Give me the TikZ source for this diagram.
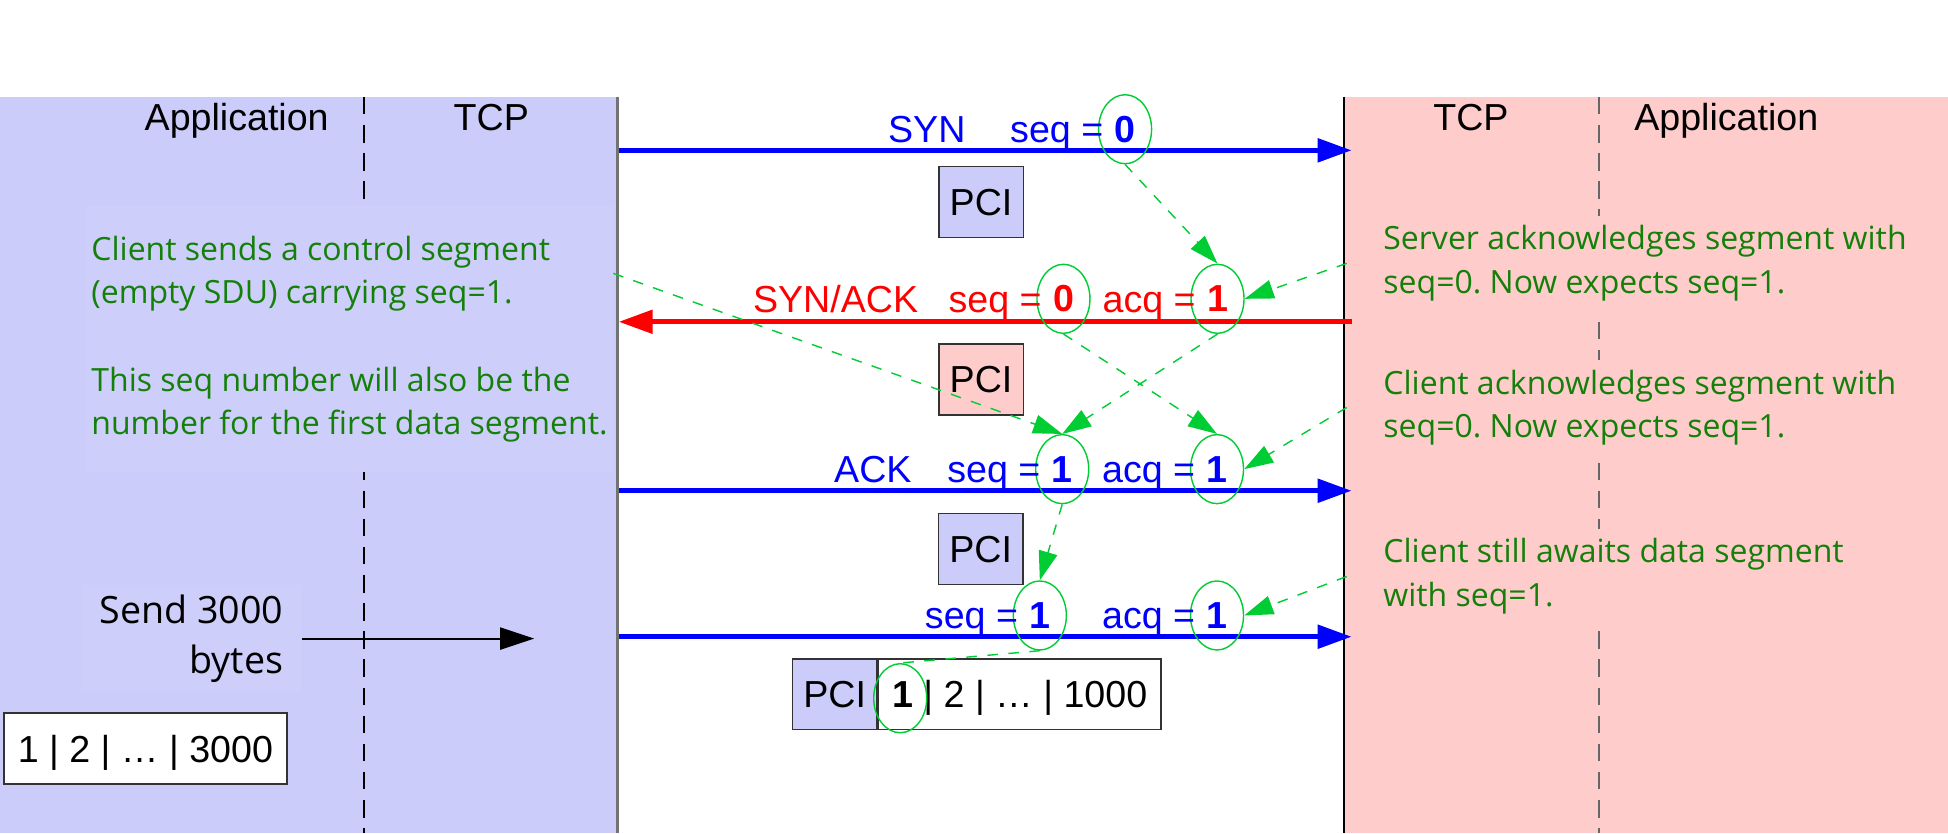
\documentclass[tikz,border=0pt]{standalone}
\usepackage{fontspec}
\setmainfont{Liberation Sans}
\newfontfamily\notefont{Open Sans}
\usepackage{xcolor}
\usetikzlibrary{arrows.meta, shapes.geometric, positioning}
\definecolor{clientblue}{RGB}{204,204,250}
\definecolor{serverpink}{RGB}{255,204,204}
\definecolor{segblue}{RGB}{0,0,255}
\definecolor{segred}{RGB}{255,0,0}
\definecolor{notegreen}{RGB}{20,128,10}
\definecolor{ringgreen}{RGB}{0,204,51}
\frenchspacing

\begin{document}
\begin{tikzpicture}[
  x=0.012423cm, y=-0.012423cm,
  font=\fontsize{10.7pt}{12.8pt}\selectfont,
  layerline/.style={
    dash pattern=on 5pt off 3pt,
    line width=0.5pt,
  },
  header/.style={
    anchor=base,
    inner sep=0pt,
  },
  seglabel/.style={
    anchor=base,
    inner sep=0pt,
  },
  field/.style={
    anchor=base east,
    inner sep=0pt,
  },
  ring/.style={
    ellipse,
    draw=ringgreen,
    line width=0.4pt,
    minimum width=0.53cm,
    minimum height=0.69cm,
    inner sep=0pt,
    font=\fontsize{10.7pt}{12.8pt}\selectfont\bfseries,
  },
  pcibox/.style={
    draw=black!80,
    minimum width=0.845cm,
    minimum height=0.708cm,
    inner sep=0pt,
    text depth=0pt,
  },
  databox/.style={
    draw=black!80,
    fill=white,
    minimum height=0.708cm,
    inner sep=0pt,
    text depth=0pt,
  },
  notetext/.style={
    font=\notefont\fontsize{9.1pt}{12.4pt}\selectfont,
    text=notegreen,
    align=left,
    anchor=west,
    inner xsep=0.36cm,
    inner ysep=0.1cm,
  },
  sendnote/.style={
    font=\notefont\fontsize{10.7pt}{14.2pt}\selectfont,
    fill=clientblue!97!white,
    align=right,
    anchor=east,
    inner xsep=0.18cm,
    inner ysep=0.1cm,
  },
  segarrow/.style={
    line width=1.5pt,
    -{Triangle[length=0.34cm, width=0.23cm]},
  },
  apparrow/.style={
    line width=0.6pt,
    -{Triangle[length=0.34cm, width=0.22cm]},
  },
  ackline/.style={
    draw=ringgreen,
    line width=0.4pt,
    dash pattern=on 3pt off 3pt,
  },
  ackarrow/.style={
    ackline,
    -{Triangle[length=0.29cm, width=0.19cm]},
  }
]
  \useasboundingbox (0,0) rectangle (1568,670.5);

  % Hosts
  \fill[clientblue] (0,78) rectangle (497,670.5);
  \fill[serverpink] (1083,78) rectangle (1568,670.5);
  \draw[layerline] (293,78) -- (293,670.5);
  \draw[layerline, draw=black!60] (1287,78) -- (1287,670.5);
  \draw[black!55, line width=0.6pt] (497,78) -- (497,670.5);
  \draw[black, line width=0.6pt] (1082,78) -- (1082,670.5);

  % Layers
  \node[header] (capp) at (190.5,104.7) {Application};
  \node[header] (ctcp) at (395.5,104.7) {TCP};
  \node[header] (stcp) at (1184,104.7) {TCP};
  \node[header] (sapp) at (1389.5,104.7) {Application};

  % Notes
  \node[notetext, fill=clientblue!96!white, inner xsep=0.05cm, inner ysep=0.3cm] (clinote) at (69,273)
    {Client sends a control segment\\(empty SDU) carrying seq=1.\\[12.4pt]This seq number will also be the\\number for the first data segment.};
  \node[notetext, fill=serverpink] (srvack) at (1084,212) {Server acknowledges segment with\\seq=0. Now expects seq=1.};
  \node[notetext, fill=serverpink] (cliack) at (1084,328) {Client acknowledges segment with\\seq=0. Now expects seq=1.};
  \node[notetext, fill=serverpink] (cliwait) at (1084,464) {Client still awaits data segment\\with seq=1.};

  % SYN
  \coordinate (syn-c) at (498,121);
  \coordinate (syn-s) at (1088,121);
  \draw[segarrow, segblue] (syn-c) -- (syn-s);
  \node[seglabel, text=segblue] (synname) at (746,115) {SYN};
  \node[ring, text=segblue] (syn0) at (905.6,104) {0};
  \node[field, text=segblue] (synseq) at ([xshift=-6pt, yshift=-3.83pt]syn0.center) {seq =};
  \node[pcibox, fill=clientblue] (synpci) at (789.7,162.6) {PCI};

  % SYN/ACK
  \coordinate (sa-s) at (1088,259);
  \coordinate (sa-c) at (498,259);
  \draw[segarrow, segred] (sa-s) -- (sa-c);
  \node[seglabel, text=segred] (saname) at (672.6,251.4) {SYN/ACK};
  \node[ring, text=segred] (sa0) at (856,240.5) {0};
  \node[field, text=segred] (saseq) at ([xshift=-6pt, yshift=-3.83pt]sa0.center) {seq =};
  \node[ring, text=segred] (sa1) at (980,240.5) {1};
  \node[field, text=segred] (saacq) at ([xshift=-6pt, yshift=-3.83pt]sa1.center) {acq =};
  \node[pcibox, fill=serverpink] (sapci) at (789.7,305.5) {PCI};

  % ACK
  \coordinate (ack-c) at (498,395);
  \coordinate (ack-s) at (1088,395);
  \draw[segarrow, segblue] (ack-c) -- (ack-s);
  \node[seglabel, text=segblue] (ackname) at (702.6,388.5) {ACK};
  \node[ring, text=segblue] (ackseq) at (855,377.6) {1};
  \node[field, text=segblue] (ackseqf) at ([xshift=-6pt, yshift=-3.83pt]ackseq.center) {seq =};
  \node[ring, text=segblue] (ackacq) at (979.6,377.6) {1};
  \node[field, text=segblue] (ackacqf) at ([xshift=-6pt, yshift=-3.83pt]ackacq.center) {acq =};
  \node[pcibox, fill=clientblue] (ackpci) at (789.4,442) {PCI};

  % Data
  \coordinate (data-c) at (498,512.5);
  \coordinate (data-s) at (1088,512.5);
  \draw[segarrow, segblue] (data-c) -- (data-s);
  \node[ring, text=segblue] (dataseq) at (837,495.4) {1};
  \node[field, text=segblue] (dataseqf) at ([xshift=-6pt, yshift=-3.83pt]dataseq.center) {seq =};
  \node[ring, text=segblue] (dataacq) at (979.6,495.4) {1};
  \node[field, text=segblue] (dataacqf) at ([xshift=-6pt, yshift=-3.83pt]dataacq.center) {acq =};
  \node[pcibox, fill=clientblue] (datapci) at (671.9,558.8) {PCI};
  \node[databox, minimum width=2.824cm, right=0pt of datapci] (datasdu) {\textbf{1} | 2 | … | 1000};
  \node[ring] (pcione) at (724.6,562) {};

  % Application data
  \node[databox, minimum width=2.83cm] (appdata) at (117,602.5) {1 | 2 | … | 3000};
  \node[sendnote] (sendnote) at (243,514) {Send 3000\\bytes};
  \coordinate (tcpin) at (430,514);
  \draw[apparrow] (sendnote.east) -- (tcpin);

  % Acknowledgement links
  \draw[ackarrow] (syn0.south) -- (sa1.north);
  \draw[ackarrow] (srvack.west) -- (sa1.east);
  \draw[ackarrow] (clinote.14) -- (ackseq.north);
  \draw[ackarrow] (sa1.south) -- (ackseq.north);
  \draw[ackarrow] (sa0.south) -- (ackacq.north);
  \draw[ackarrow] (cliack.west) -- (ackacq.east);
  \draw[ackarrow] (ackseq.south) -- (dataseq.north);
  \draw[ackarrow] (cliwait.west) -- (dataacq.east);
  \draw[ackline] (dataseq.south) -- (pcione.north);

\end{tikzpicture}
\end{document}
